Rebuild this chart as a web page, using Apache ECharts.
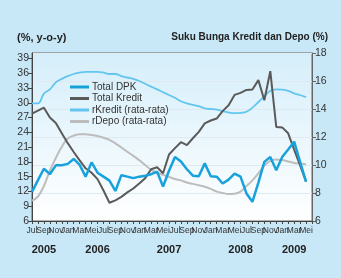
<!DOCTYPE html>
<html>
<head>
<meta charset="utf-8">
<script src="https://cdn.jsdelivr.net/npm/echarts@6/dist/echarts.min.js"></script>
<style>
html, body { margin: 0; padding: 0; background: #c8e8f8; }
#main { width: 341px; height: 278px; }
</style>
</head>
<body>
<div id="main"></div>
<script>
// Jul 2005 .. Jun 2009 (last month has no data)
var months = [
  'Jul','Agu','Sep','Okt','Nov','Des',
  'Jan','Feb','Mar','Apr','Mei','Jun','Jul','Agu','Sep','Okt','Nov','Des',
  'Jan','Feb','Mar','Apr','Mei','Jun','Jul','Agu','Sep','Okt','Nov','Des',
  'Jan','Feb','Mar','Apr','Mei','Jun','Jul','Agu','Sep','Okt','Nov','Des',
  'Jan','Feb','Mar','Apr','Mei','Jun'
];
var years = ['2005', '2006', '2007', '2008', '2009'];
var yearAt = [2, 11, 23, 35, 44];

// kiri (%, y-o-y)
var totalDPK = [
  11.9, 14.3, 16.6, 15.5, 17.3, 17.3, 17.6, 18.6, 17.4, 15.0,
  17.9, 15.8, 15.0, 14.2, 12.1, 15.3, 15.0, 14.7, 15.0, 15.2,
  15.5, 16.0, 13.0, 16.2, 19.0, 18.1, 16.5, 15.2, 15.1, 17.7,
  15.1, 15.0, 13.6, 14.4, 15.6, 15.0, 11.6, 9.9, 13.8, 18.0,
  19.0, 16.3, 19.0, 20.5, 22.1, 18.0, 14.0
];
var totalKredit = [
  27.8, 28.4, 29.0, 27.0, 25.9, 23.8, 21.8, 20.0, 18.3, 16.7,
  15.8, 14.5, 12.2, 9.7, 10.2, 10.9, 11.8, 12.6, 13.6, 14.7,
  16.5, 16.9, 15.7, 19.5, 20.8, 22.0, 21.4, 22.8, 24.1, 25.8,
  26.4, 26.8, 28.3, 29.5, 31.6, 32.0, 32.6, 32.7, 34.6, 30.5,
  36.4, 25.1, 25.0, 23.8, 20.5, 17.3, 14.0
];
// kanan (%)
var rKredit = [
  14.4, 14.4, 15.1, 15.4, 15.9, 16.15, 16.35, 16.5, 16.6, 16.65,
  16.65, 16.65, 16.6, 16.5, 16.5, 16.35, 16.25, 16.15, 16.0, 15.8,
  15.6, 15.4, 15.2, 15.0, 14.8, 14.55, 14.4, 14.3, 14.2, 14.05,
  14.0, 13.95, 13.85, 13.75, 13.7, 13.72, 13.8, 14.1, 14.5, 14.9,
  15.3, 15.4, 15.38, 15.3, 15.12, 15.0, 14.85
];
var rDepo = [
  7.45, 7.75, 8.5, 9.6, 10.5, 11.3, 11.9, 12.1, 12.2, 12.2,
  12.15, 12.07, 11.95, 11.8, 11.55, 11.25, 10.95, 10.65, 10.35, 10.0,
  9.65, 9.45, 9.3, 9.15, 9.0, 8.9, 8.75, 8.65, 8.55, 8.45,
  8.3, 8.1, 8.0, 7.93, 7.95, 8.1, 8.5, 8.9, 9.4, 9.95,
  10.3, 10.4, 10.35, 10.25, 10.15, 10.1, 10.05
];

var narrow = '"Liberation Sans Narrow", "Liberation Sans", sans-serif';
var plain = '"Liberation Sans", sans-serif';

var yearData = months.map(function () { return ''; });
yearAt.forEach(function (p, k) { yearData[p] = years[k]; });

// month labels every 2 months, split over two axes so the library never drops any
function monthAxis(start, main) {
  return {
    type: 'category',
    data: months,
    position: 'bottom',
    boundaryGap: false,
    axisLine: { show: main, lineStyle: { color: '#444' } },
    axisTick: { show: main, interval: 0, length: 3, lineStyle: { color: '#444' } },
    axisLabel: {
      interval: function (i) { return i % 4 === start && i < months.length - 1; },
      fontSize: 8.5, margin: 5, color: '#333', fontFamily: narrow
    },
    splitLine: { show: false }
  };
}

var myChart = echarts.init(document.getElementById('main'));

var option = {
  backgroundColor: '#c8e8f8',
  animation: false,
  title: [
    { text: '(%, y-o-y)', left: 12, top: 27,
      textStyle: { fontSize: 11, fontWeight: 'bold', color: '#222', fontFamily: plain } },
    { text: 'Suku Bunga Kredit dan Depo (%)', right: 8, top: 27,
      textStyle: { fontSize: 10, fontWeight: 'bold', color: '#222', fontFamily: plain } }
  ],
  grid: {
    left: 32, right: 29, top: 53, bottom: 57,
    show: true,
    borderColor: '#666',
    borderWidth: 1,
    backgroundColor: new echarts.graphic.LinearGradient(0, 0, 0, 1, [
      { offset: 0, color: '#d5eefa' },
      { offset: 1, color: '#ffffff' }
    ])
  },
  legend: {
    data: ['Total DPK', 'Total Kredit', 'rKredit (rata-rata)', 'rDepo (rata-rata)'],
    orient: 'vertical',
    left: 65, top: 77,
    icon: 'rect',
    itemWidth: 19, itemHeight: 3, itemGap: 1.5,
    textStyle: { fontSize: 10, color: '#333', fontFamily: narrow, padding: [0, 0, 0, -2] }
  },
  xAxis: [
    monthAxis(0, true),
    monthAxis(2, false),
    {
      type: 'category',
      data: yearData,
      position: 'bottom',
      offset: 15,
      boundaryGap: false,
      axisLine: { show: false },
      axisTick: { show: false },
      axisLabel: { interval: 0, fontSize: 11, fontWeight: 'bold', color: '#222', fontFamily: plain }
    }
  ],
  yAxis: [
    {
      type: 'value',
      position: 'left',
      min: 6, max: 40.1, interval: 3,
      axisLine: { show: true, lineStyle: { color: '#444' } },
      axisTick: { show: true, length: 4, lineStyle: { color: '#444' } },
      axisLabel: {
        fontSize: 10.5, margin: 3, color: '#333', fontFamily: plain, showMaxLabel: false,
        formatter: function (v) { return v > 39.5 ? '' : v; }
      },
      splitLine: { show: false }
    },
    {
      type: 'value',
      position: 'right',
      min: 6, max: 18, interval: 2,
      axisLine: { show: true, lineStyle: { color: '#666' } },
      axisTick: { show: true, length: 4, lineStyle: { color: '#666' } },
      axisLabel: { fontSize: 10.5, margin: 3, color: '#333', fontFamily: plain },
      splitLine: { show: true, lineStyle: { color: '#dfeaf0' } }
    }
  ],
  series: [
    { name: 'rDepo (rata-rata)', type: 'line', yAxisIndex: 1, data: rDepo,
      smooth: 0.4, symbol: 'none', color: '#bdbdbd', lineStyle: { width: 2 } },
    { name: 'rKredit (rata-rata)', type: 'line', yAxisIndex: 1, data: rKredit,
      smooth: 0.4, symbol: 'none', color: '#62c6ee', lineStyle: { width: 1.8 } },
    { name: 'Total Kredit', type: 'line', yAxisIndex: 0, data: totalKredit,
      symbol: 'none', color: '#5a5a5a', lineStyle: { width: 2 } },
    { name: 'Total DPK', type: 'line', yAxisIndex: 0, data: totalDPK,
      symbol: 'none', color: '#17a2dc', lineStyle: { width: 2.5 } }
  ]
};

myChart.setOption(option);
</script>
</body>
</html>
